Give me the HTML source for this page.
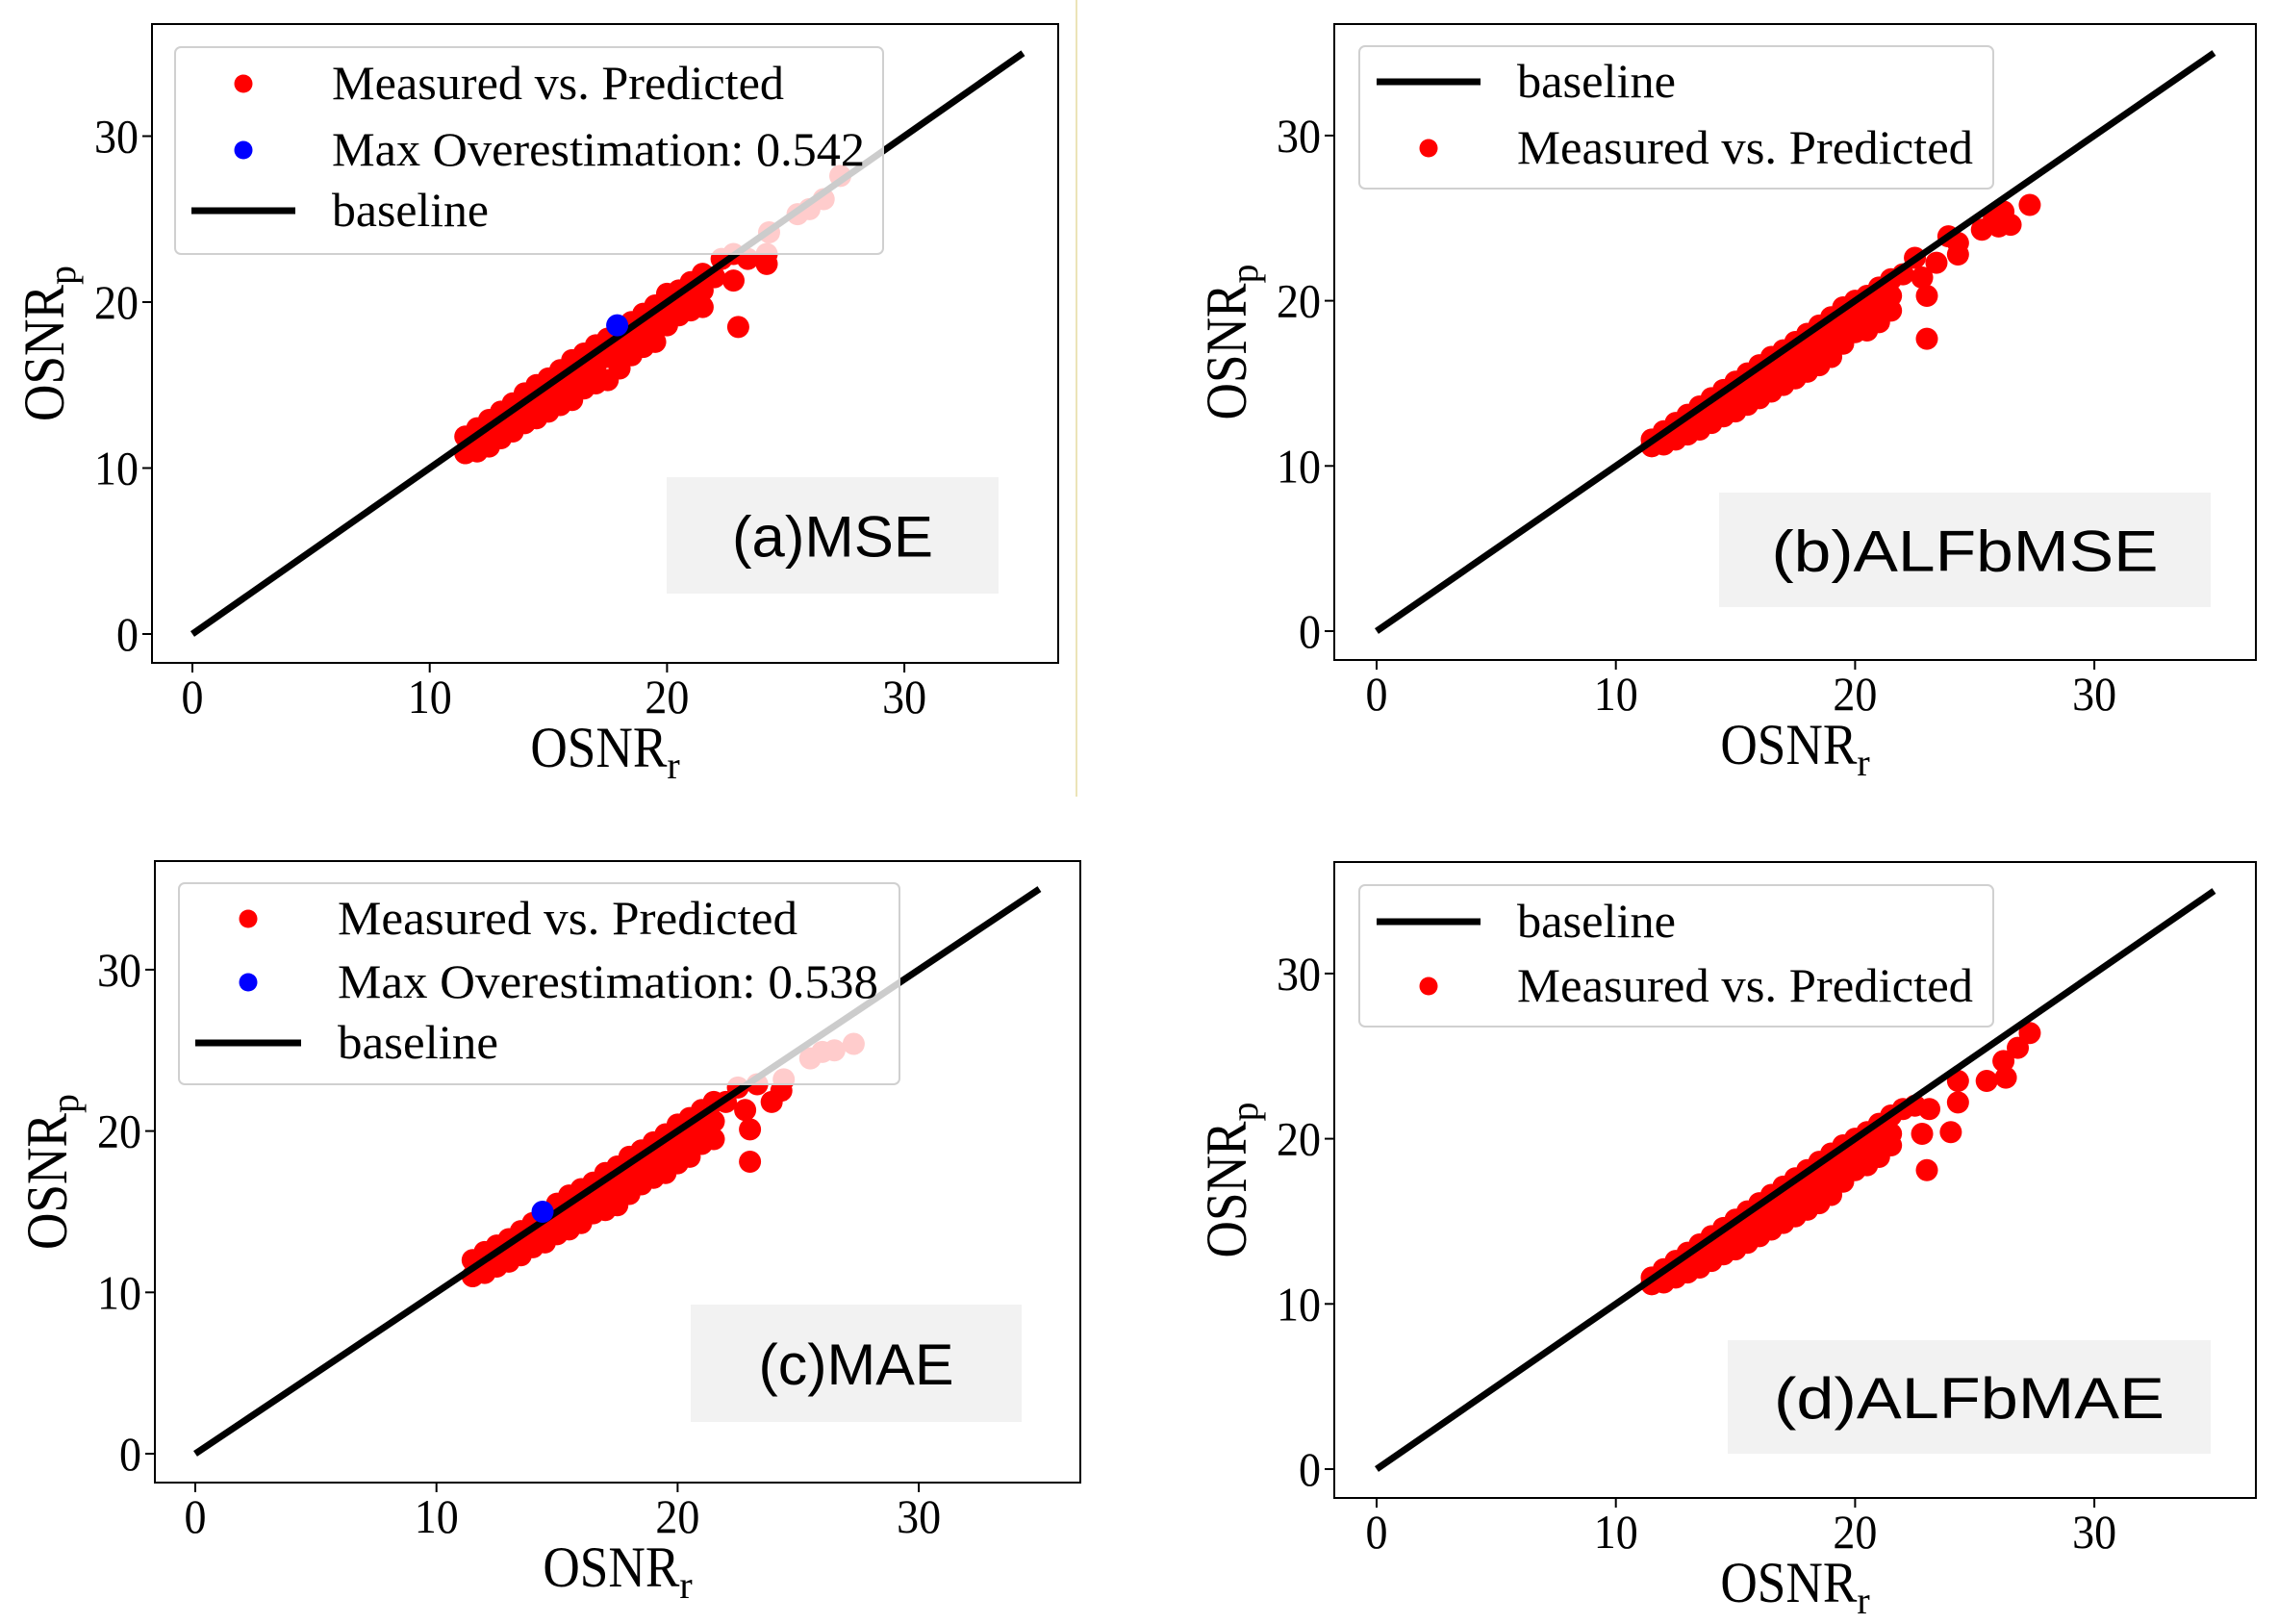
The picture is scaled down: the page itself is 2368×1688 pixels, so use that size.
<!DOCTYPE html>
<html><head><meta charset="utf-8"><style>
html,body{margin:0;padding:0;background:#fff;}
svg{display:block;}
</style></head><body>
<svg id="fig" xmlns="http://www.w3.org/2000/svg" width="2368" height="1688" viewBox="0 0 2368 1688">
<rect x="0" y="0" width="2368" height="1688" fill="#fff"/>
<line x1="1119" y1="0" x2="1119" y2="828" stroke="#e6dca0" stroke-width="1.5"/>
</svg>
<script>
const tickValues = [0, 10, 20, 30];
const tickLabels = ["0", "10", "20", "30"];
const baselineX = [0, 35];
const baselineY = [0, 35];

const osnrR_a = [11.5,12,12.5,13,13.5,14,14.5,15,15.5,16,16.5,17,17.5,18,18.5,19,19.5,20,20.5,21,21.5,
 11.5,12,12.5,13,13.5,14,14.5,15,15.5,16,16.5,17,17.5,18,18.5,19,19.5,20,20.5,21,21.5,
 11.5,12,12.5,13,13.5,14,14.5,15,15.5,16,16.5,17,17.5,18,18.5,19,19.5,20,20.5,21,21.5,
 22,22.3,22.8,22.8,23,23.4,24.2,24.2,24.3,25.5,26,26.6,27.3];
const osnrP_a = [11.9,12.4,12.9,13.4,13.9,14.5,15.0,15.4,15.9,16.5,16.9,17.4,17.8,18.2,18.8,19.3,19.8,20.5,20.7,21.2,21.7,
 10.9,11.4,11.9,12.4,12.9,13.3,13.8,14.3,14.8,15.2,15.7,16.2,16.7,17.2,17.6,18.1,18.7,19.2,19.8,20.2,20.7,
 10.9,11.0,11.3,11.8,12.2,12.7,13.0,13.4,13.8,14.1,14.8,15.1,15.3,16.0,16.8,17.3,17.6,18.6,19.2,19.5,19.7,
 21.5,22.6,22.9,21.3,18.5,22.6,22.3,22.9,24.2,25.3,25.6,26.2,27.6];
const maxOverR_a = [17.9];
const maxOverP_a = [18.6];

const osnrR_b = [11.5,12,12.5,13,13.5,14,14.5,15,15.5,16,16.5,17,17.5,18,18.5,19,19.5,20,20.5,21,21.5,
 11.5,12,12.5,13,13.5,14,14.5,15,15.5,16,16.5,17,17.5,18,18.5,19,19.5,20,20.5,21,21.5,
 11.5,12,12.5,13,13.5,14,14.5,15,15.5,16,16.5,17,17.5,18,18.5,19,19.5,20,20.5,21,21.5,
 22,22.5,22.8,23,23,23.4,24.3,24.3,23.9,25.3,25.8,26,26.2,26.5,27.3];
const osnrP_b = [11.6,12.1,12.6,13.1,13.6,14.1,14.6,15.1,15.6,16.1,16.6,17.0,17.5,18.0,18.5,19.0,19.6,20.0,20.3,20.8,21.3,
 11.2,11.5,11.9,12.3,12.7,13.2,13.6,14.0,14.5,15.0,15.5,16.0,16.4,16.9,17.4,17.9,18.4,18.9,19.3,19.8,20.3,
 11.2,11.3,11.6,11.9,12.2,12.6,13.0,13.3,13.7,14.1,14.5,14.9,15.3,15.7,16.1,16.6,17.4,18.1,18.2,18.7,19.4,
 21.6,22.6,21.4,20.3,17.7,22.3,23.5,22.8,23.9,24.3,25.0,24.5,25.4,24.6,25.8];

const osnrR_c = [11.5,12,12.5,13,13.5,14,14.5,15,15.5,16,16.5,17,17.5,18,18.5,19,19.5,20,20.5,21,21.5,
 11.5,12,12.5,13,13.5,14,14.5,15,15.5,16,16.5,17,17.5,18,18.5,19,19.5,20,20.5,21,21.5,
 11.5,12,12.5,13,13.5,14,14.5,15,15.5,16,16.5,17,17.5,18,18.5,19,19.5,20,20.5,21,21.5,
 22,22.5,22.8,23,23,23.3,23.9,24.3,24.4,25.5,26,26.5,27.3];
const osnrP_c = [12.0,12.5,12.9,13.3,13.8,14.3,14.9,15.5,16.0,16.4,16.8,17.4,17.8,18.4,18.8,19.3,19.8,20.4,20.8,21.3,21.8,
 11.0,11.5,12.0,12.5,12.9,13.4,13.8,14.4,14.8,15.3,15.8,16.3,16.7,17.2,17.7,18.2,18.6,19.2,19.6,20.1,20.6,
 11.0,11.2,11.6,11.9,12.3,12.8,13.1,13.6,13.9,14.3,14.9,15.1,15.4,16.1,16.7,17.1,17.4,18.0,18.4,19.2,19.5,
 21.8,22.7,21.3,20.1,18.1,22.9,21.8,22.5,23.2,24.5,24.9,25.0,25.4];
const maxOverR_c = [14.4];
const maxOverP_c = [15.0];

const osnrR_d = [11.5,12,12.5,13,13.5,14,14.5,15,15.5,16,16.5,17,17.5,18,18.5,19,19.5,20,20.5,21,21.5,
 11.5,12,12.5,13,13.5,14,14.5,15,15.5,16,16.5,17,17.5,18,18.5,19,19.5,20,20.5,21,21.5,
 11.5,12,12.5,13,13.5,14,14.5,15,15.5,16,16.5,17,17.5,18,18.5,19,19.5,20,20.5,21,21.5,
 22,22.5,22.8,23.1,23,24.0,24.3,24.3,25.5,26.3,26.2,26.8,27.3];
const osnrP_d = [11.6,12.1,12.6,13.1,13.6,14.1,14.6,15.1,15.6,16.1,16.6,17.1,17.6,18.1,18.6,19.1,19.6,20.0,20.4,20.9,21.4,
 11.2,11.5,11.9,12.3,12.7,13.2,13.6,14.0,14.5,15.0,15.5,16.0,16.4,16.9,17.4,17.9,18.4,18.9,19.3,19.8,20.3,
 11.2,11.3,11.6,11.9,12.2,12.6,13.0,13.3,13.7,14.1,14.5,14.9,15.3,15.7,16.1,16.6,17.4,18.1,18.4,18.9,19.6,
 21.8,22.0,20.3,21.8,18.1,20.4,22.2,23.5,23.5,23.7,24.7,25.5,26.4];

const SVGNS = "http://www.w3.org/2000/svg";
const svg = document.getElementById("fig");
function mk(tag, attrs, parent) {
  const e = document.createElementNS(SVGNS, tag);
  for (const k in attrs) e.setAttribute(k, attrs[k]);
  (parent || svg).appendChild(e);
  return e;
}
const SERIF = '"Liberation Serif", serif';
const SANS = '"Liberation Sans", sans-serif';
const PT_R = 11.5;

function drawPanel(p) {
  const g = mk("g", {});
  
  
  const sx = v => p.x0 + (v / 10) * (p.x10 - p.x0);
  const sy = v => p.y0 - (v / 10) * (p.y0 - p.y10);

  tickValues.forEach((v, i) => {
    const w = tickLabels[i].length * 23;
    const xt = mk("line", {x1: sx(v), y1: p.B, x2: sx(v), y2: p.B + 10, stroke: "#000", "stroke-width": 2}, g);
    
    
    const xl = mk("text", {x: sx(v), y: p.B + 52, "text-anchor": "middle", "font-family": SERIF, "font-size": 50, fill: "#000", textLength: w, lengthAdjust: "spacingAndGlyphs"}, g);
    xl.textContent = tickLabels[i];
    
    
    const yt = mk("line", {x1: p.L - 10, y1: sy(v), x2: p.L, y2: sy(v), stroke: "#000", "stroke-width": 2}, g);
    
    
    const yl = mk("text", {x: p.L - 14, y: sy(v) + 17, "text-anchor": "end", "font-family": SERIF, "font-size": 50, fill: "#000", textLength: w, lengthAdjust: "spacingAndGlyphs"}, g);
    yl.textContent = tickLabels[i];
    
    
  });

  p.xs.forEach((xv, i) => {
    const c = mk("circle", {cx: sx(xv), cy: sy(p.ys[i]), r: PT_R, fill: "#ff0000"}, g);
    
    
  });
  const bl = mk("line", {x1: sx(baselineX[0]), y1: sy(baselineY[0]), x2: sx(baselineX[1]), y2: sy(baselineY[1]), stroke: "#000", "stroke-width": 7}, g);
  
  
  if (p.bx) {
    p.bx.forEach((xv, i) => {
      const c = mk("circle", {cx: sx(xv), cy: sy(p.by[i]), r: PT_R, fill: "#0000ff"}, g);
      
      
    });
  }

  const fr = mk("rect", {x: p.L, y: p.T, width: p.R - p.L, height: p.B - p.T, fill: "none", stroke: "#000", "stroke-width": 2}, g);
  
  

  const xlab = mk("text", {x: (p.L + p.R) / 2, y: p.B + 108, "text-anchor": "middle", "font-family": SERIF, "font-size": 60, fill: "#000"}, g);
  xlab.innerHTML = '<tspan textLength="142" lengthAdjust="spacingAndGlyphs">OSNR</tspan><tspan font-size="40" dy="12">r</tspan>';
  
  
  const ycx = p.L - 112, ycy = (p.T + p.B) / 2;
  const ylab = mk("text", {x: ycx + 20, y: ycy, "text-anchor": "middle", "font-family": SERIF, "font-size": 60, fill: "#000", transform: `rotate(-90 ${ycx + 20} ${ycy})`}, g);
  ylab.innerHTML = '<tspan textLength="142" lengthAdjust="spacingAndGlyphs">OSNR</tspan><tspan font-size="40" dy="12">p</tspan>';
  
  

  const lg = mk("g", {}, g);
  
  
  mk("rect", {x: p.leg.x1, y: p.leg.y1, width: p.leg.x2 - p.leg.x1, height: p.leg.y2 - p.leg.y1, rx: 6, fill: "rgba(255,255,255,0.8)", stroke: "#d0d0d0", "stroke-width": 2}, lg);
  p.leg.items.forEach(it => {
    const eg = mk("g", {}, lg);
    
    
    if (it.kind === "line") {
      mk("line", {x1: p.leg.lx1, y1: it.y, x2: p.leg.lx2, y2: it.y, stroke: "#000", "stroke-width": 7}, eg);
    } else {
      mk("circle", {cx: p.leg.mx, cy: it.y, r: 9.5, fill: it.color}, eg);
    }
    const t = mk("text", {x: p.leg.tx, y: it.y + 16, "font-family": SERIF, "font-size": 50, fill: "#000", textLength: it.w, lengthAdjust: "spacingAndGlyphs"}, eg);
    t.textContent = it.label;
  });

  const ab = mk("g", {}, g);
  
  
  mk("rect", {x: p.box.x1, y: p.box.y1, width: p.box.x2 - p.box.x1, height: p.box.y2 - p.box.y1, fill: "#f2f2f2"}, ab);
  const bt = mk("text", {x: (p.box.x1 + p.box.x2) / 2, y: (p.box.y1 + p.box.y2) / 2 + 22, "text-anchor": "middle", "font-family": SANS, "font-size": 60, fill: "#000", textLength: p.box.w, lengthAdjust: "spacingAndGlyphs"}, ab);
  bt.textContent = p.box.text;
}

drawPanel({id: "panel-a-mse", L: 158, R: 1100, T: 25, B: 689, x0: 200, x10: 446.7, y0: 659, y10: 486.5,
  xs: osnrR_a, ys: osnrP_a, bx: maxOverR_a, by: maxOverP_a,
  leg: {x1: 182, y1: 49, x2: 918, y2: 264, lx1: 199, lx2: 307, mx: 253, tx: 345,
    items: [{kind: "dot", color: "#ff0000", y: 87, label: "Measured vs. Predicted", w: 470},
            {kind: "dot", color: "#0000ff", y: 156, label: "Max Overestimation: 0.542", w: 554},
            {kind: "line", y: 219, label: "baseline", w: 163}]},
  box: {x1: 693, y1: 496, x2: 1038, y2: 617, text: "(a)MSE", w: 209}});

drawPanel({id: "panel-b-alfbmse", L: 1387, R: 2345, T: 25, B: 686, x0: 1431, x10: 1679.7, y0: 656, y10: 484.3,
  xs: osnrR_b, ys: osnrP_b,
  leg: {x1: 1413, y1: 48, x2: 2072, y2: 196, lx1: 1431, lx2: 1539, mx: 1485, tx: 1577,
    items: [{kind: "line", y: 85, label: "baseline", w: 165},
            {kind: "dot", color: "#ff0000", y: 154, label: "Measured vs. Predicted", w: 474}]},
  box: {x1: 1787, y1: 512, x2: 2298, y2: 631, text: "(b)ALFbMSE", w: 402}});

drawPanel({id: "panel-c-mae", L: 161, R: 1123, T: 895, B: 1541, x0: 203, x10: 453.7, y0: 1511, y10: 1343.3,
  xs: osnrR_c, ys: osnrP_c, bx: maxOverR_c, by: maxOverP_c,
  leg: {x1: 186, y1: 918, x2: 935, y2: 1127, lx1: 203, lx2: 313, mx: 258, tx: 351,
    items: [{kind: "dot", color: "#ff0000", y: 955, label: "Measured vs. Predicted", w: 478},
            {kind: "dot", color: "#0000ff", y: 1021, label: "Max Overestimation: 0.538", w: 562},
            {kind: "line", y: 1084, label: "baseline", w: 167}]},
  box: {x1: 718, y1: 1356, x2: 1062, y2: 1478, text: "(c)MAE", w: 203}});

drawPanel({id: "panel-d-alfbmae", L: 1387, R: 2345, T: 896, B: 1557, x0: 1431, x10: 1679.7, y0: 1527, y10: 1355.3,
  xs: osnrR_d, ys: osnrP_d,
  leg: {x1: 1413, y1: 920, x2: 2072, y2: 1067, lx1: 1431, lx2: 1539, mx: 1485, tx: 1577,
    items: [{kind: "line", y: 958, label: "baseline", w: 165},
            {kind: "dot", color: "#ff0000", y: 1025, label: "Measured vs. Predicted", w: 474}]},
  box: {x1: 1796, y1: 1393, x2: 2298, y2: 1511, text: "(d)ALFbMAE", w: 406}});
</script>
</body></html>
